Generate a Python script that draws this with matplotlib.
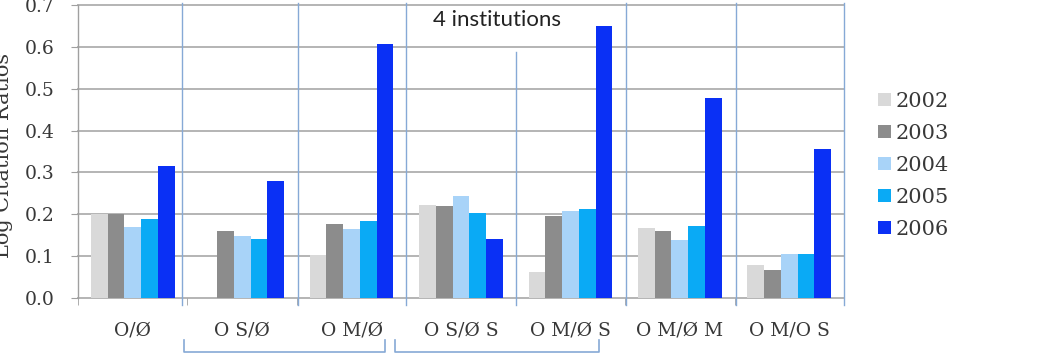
#!/usr/bin/env python3
import matplotlib

matplotlib.use("Agg")

import matplotlib.pyplot as plt
import numpy as np
from matplotlib.lines import Line2D

categories = ["O/Ø", "O S/Ø", "O M/Ø", "O S/Ø S", "O M/Ø S", "O M/Ø M", "O M/O S"]
years = ["2002", "2003", "2004", "2005", "2006"]

# log citation ratios per year, one value per category (0 = no bar)
vals_2002 = [0.200, 0.0, 0.102, 0.222, 0.062, 0.168, 0.080]
vals_2003 = [0.200, 0.160, 0.177, 0.219, 0.195, 0.159, 0.068]
vals_2004 = [0.170, 0.148, 0.166, 0.244, 0.208, 0.138, 0.106]
vals_2005 = [0.189, 0.140, 0.183, 0.202, 0.212, 0.172, 0.106]
vals_2006 = [0.315, 0.279, 0.606, 0.142, 0.650, 0.478, 0.357]

yticks = [0.0, 0.1, 0.2, 0.3, 0.4, 0.5, 0.6, 0.7]

bar_colors = ["#d9d9d9", "#8c8c8c", "#a8d3f8", "#0aaaf5", "#0a30f5"]
line_blue = "#86a9d6"
grid_gray = "#b4b4b4"
text_col = "#383838"
serif = "DejaVu Serif"

W, H = 1046, 354
fig = plt.figure(figsize=(W / 100, H / 100), dpi=100)
ax = fig.add_axes([78 / W, 1 - 298 / H, (844 - 78) / W, (298 - 5) / H])

series = [vals_2002, vals_2003, vals_2004, vals_2005, vals_2006]
x = np.arange(len(categories))
bw = 0.153
for k, (vals, col, yr) in enumerate(zip(series, bar_colors, years)):
    ax.bar(x + (k - 2) * bw, vals, width=bw, color=col, label=yr, zorder=3, linewidth=0)

ax.set_xlim(-0.5, len(categories) - 0.5)
ax.set_ylim(0, 0.7)

# horizontal gridlines, top one sits on the axes edge
for v in yticks:
    ax.axhline(v, color=grid_gray, lw=1.4, zorder=1, clip_on=False)

for s in ["top", "right", "bottom"]:
    ax.spines[s].set_visible(False)
ax.spines["left"].set_color("#a0a0a0")
ax.spines["left"].set_linewidth(1.0)

ax.set_yticks(yticks)
ax.set_yticklabels([f"{v:.1f}" for v in yticks], family=serif, fontsize=13.5, color=text_col)
ax.tick_params(axis="y", length=5, color="#a0a0a0", pad=12)

ax.set_xticks(x)
ax.set_xticklabels(categories, family=serif, fontsize=13.5, color=text_col)
ax.tick_params(axis="x", length=0, pad=17)
ax.set_xticks(np.arange(len(categories) + 1) - 0.5, minor=True)
ax.tick_params(axis="x", which="minor", length=5, color="#a0a0a0")

# hand-drawn blue separators
sep_x = [0.45, 1.51, 2.5, 3.5, 4.51, 5.51, 6.5]
for sx in sep_x:
    top = 0.588 if sx == 3.5 else 0.705
    ax.plot([sx, sx], [-0.017, top], color=line_blue, lw=1.0, zorder=4, clip_on=False)

ax.text(3.33, 0.664, "4 institutions", family="Lato", fontsize=16, ha="center", va="center",
        color="#222222", zorder=5)

# brackets under the category labels
for x0, x1 in [(0.469, 2.305), (2.397, 4.261)]:
    tr = ax.get_xaxis_transform()
    ax.add_line(Line2D([x0, x0, x1, x1], [-0.143, -0.184, -0.184, -0.143], transform=tr,
                       color=line_blue, lw=1.2, clip_on=False))

fig.text(13 / W, 1 - 155 / H, "Log Citation Ratios", family=serif, fontsize=15, rotation=90,
         ha="right", va="center", color=text_col)

ax.legend(loc="upper left", bbox_to_anchor=(878 / W, 1 - 92 / H), bbox_transform=fig.transFigure,
          frameon=False, prop={"family": serif, "size": 15}, handlelength=0.62, handleheight=0.62,
          handletextpad=0.2, labelspacing=0.62, borderpad=0, borderaxespad=0, labelcolor=text_col)

fig.savefig("out.png", dpi=100, facecolor="white")
